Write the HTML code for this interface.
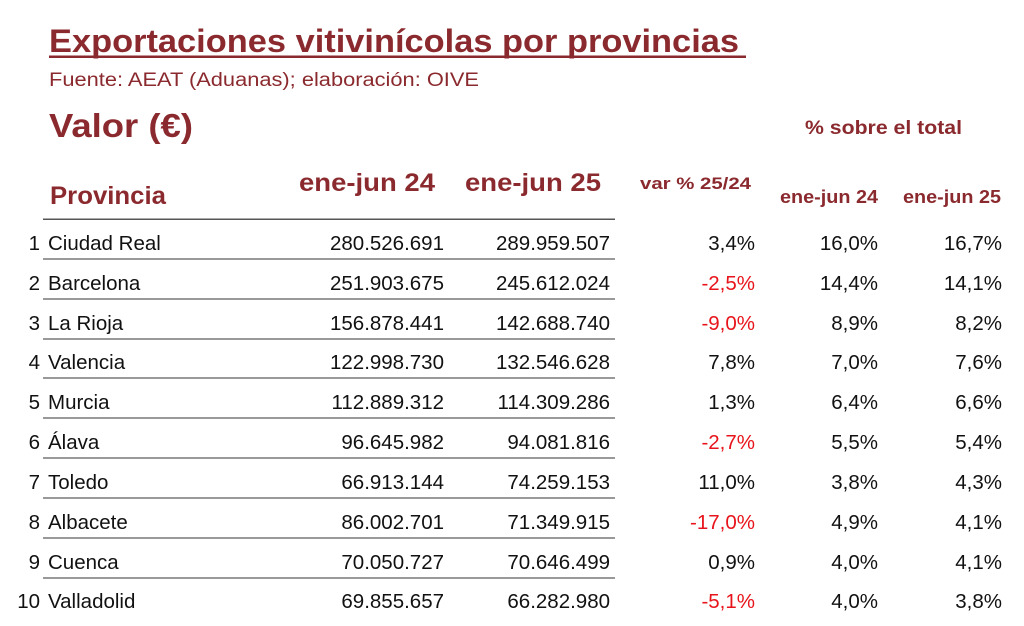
<!DOCTYPE html>
<html><head><meta charset="utf-8"><style>
html,body{margin:0;padding:0;background:#fff;}
svg{display:block;font-family:"Liberation Sans",sans-serif;}
.h{fill:#8b2a2e;font-weight:bold;}
.n{fill:#111;font-size:20.5px;}
.r{fill:#e8141c;}
</style></head><body>
<svg width="1024" height="626" viewBox="0 0 1024 626" xmlns="http://www.w3.org/2000/svg">
<rect width="1024" height="626" fill="#fff"/>
<text class="h" x="49" y="52" font-size="32" textLength="690" lengthAdjust="spacingAndGlyphs">Exportaciones vitivinícolas por provincias</text>
<rect x="49" y="55.5" width="697" height="2.5" fill="#8b2a2e"/>
<text x="49" y="86" font-size="19" fill="#8b2a2e" textLength="430" lengthAdjust="spacingAndGlyphs">Fuente: AEAT (Aduanas); elaboración: OIVE</text>
<text class="h" x="49" y="137" font-size="33" textLength="144" lengthAdjust="spacingAndGlyphs">Valor (€)</text>
<text class="h" x="805" y="134" font-size="19" textLength="157" lengthAdjust="spacingAndGlyphs">% sobre el total</text>
<text class="h" x="50" y="204" font-size="25" textLength="116" lengthAdjust="spacingAndGlyphs">Provincia</text>
<text class="h" x="299" y="191" font-size="25" textLength="136" lengthAdjust="spacingAndGlyphs">ene-jun 24</text>
<text class="h" x="465" y="191" font-size="25" textLength="136" lengthAdjust="spacingAndGlyphs">ene-jun 25</text>
<text class="h" x="640" y="189" font-size="17" textLength="111" lengthAdjust="spacingAndGlyphs">var % 25/24</text>
<text class="h" x="780" y="203" font-size="18" textLength="98" lengthAdjust="spacingAndGlyphs">ene-jun 24</text>
<text class="h" x="903" y="203" font-size="18" textLength="98" lengthAdjust="spacingAndGlyphs">ene-jun 25</text>
<rect x="43" y="218.5" width="572" height="1.5" fill="#555"/>
<g fill="#999">
<rect x="43" y="258" width="572" height="2"/><rect x="43" y="298" width="572" height="2"/>
<rect x="43" y="338" width="572" height="2"/><rect x="43" y="377" width="572" height="2"/>
<rect x="43" y="417" width="572" height="2"/><rect x="43" y="457" width="572" height="2"/>
<rect x="43" y="497" width="572" height="2"/><rect x="43" y="537" width="572" height="2"/>
<rect x="43" y="577" width="572" height="2"/>
</g>
<g class="n">
<g transform="translate(0,250)"><text x="40" text-anchor="end">1</text><text x="48">Ciudad Real</text><text x="444" text-anchor="end">280.526.691</text><text x="610" text-anchor="end">289.959.507</text><text x="755" text-anchor="end">3,4%</text><text x="878" text-anchor="end">16,0%</text><text x="1002" text-anchor="end">16,7%</text></g>
<g transform="translate(0,290)"><text x="40" text-anchor="end">2</text><text x="48">Barcelona</text><text x="444" text-anchor="end">251.903.675</text><text x="610" text-anchor="end">245.612.024</text><text class="r" x="755" text-anchor="end">-2,5%</text><text x="878" text-anchor="end">14,4%</text><text x="1002" text-anchor="end">14,1%</text></g>
<g transform="translate(0,330)"><text x="40" text-anchor="end">3</text><text x="48">La Rioja</text><text x="444" text-anchor="end">156.878.441</text><text x="610" text-anchor="end">142.688.740</text><text class="r" x="755" text-anchor="end">-9,0%</text><text x="878" text-anchor="end">8,9%</text><text x="1002" text-anchor="end">8,2%</text></g>
<g transform="translate(0,369)"><text x="40" text-anchor="end">4</text><text x="48">Valencia</text><text x="444" text-anchor="end">122.998.730</text><text x="610" text-anchor="end">132.546.628</text><text x="755" text-anchor="end">7,8%</text><text x="878" text-anchor="end">7,0%</text><text x="1002" text-anchor="end">7,6%</text></g>
<g transform="translate(0,409)"><text x="40" text-anchor="end">5</text><text x="48">Murcia</text><text x="444" text-anchor="end">112.889.312</text><text x="610" text-anchor="end">114.309.286</text><text x="755" text-anchor="end">1,3%</text><text x="878" text-anchor="end">6,4%</text><text x="1002" text-anchor="end">6,6%</text></g>
<g transform="translate(0,449)"><text x="40" text-anchor="end">6</text><text x="48">Álava</text><text x="444" text-anchor="end">96.645.982</text><text x="610" text-anchor="end">94.081.816</text><text class="r" x="755" text-anchor="end">-2,7%</text><text x="878" text-anchor="end">5,5%</text><text x="1002" text-anchor="end">5,4%</text></g>
<g transform="translate(0,489)"><text x="40" text-anchor="end">7</text><text x="48">Toledo</text><text x="444" text-anchor="end">66.913.144</text><text x="610" text-anchor="end">74.259.153</text><text x="755" text-anchor="end">11,0%</text><text x="878" text-anchor="end">3,8%</text><text x="1002" text-anchor="end">4,3%</text></g>
<g transform="translate(0,529)"><text x="40" text-anchor="end">8</text><text x="48">Albacete</text><text x="444" text-anchor="end">86.002.701</text><text x="610" text-anchor="end">71.349.915</text><text class="r" x="755" text-anchor="end">-17,0%</text><text x="878" text-anchor="end">4,9%</text><text x="1002" text-anchor="end">4,1%</text></g>
<g transform="translate(0,569)"><text x="40" text-anchor="end">9</text><text x="48">Cuenca</text><text x="444" text-anchor="end">70.050.727</text><text x="610" text-anchor="end">70.646.499</text><text x="755" text-anchor="end">0,9%</text><text x="878" text-anchor="end">4,0%</text><text x="1002" text-anchor="end">4,1%</text></g>
<g transform="translate(0,608)"><text x="40" text-anchor="end">10</text><text x="48">Valladolid</text><text x="444" text-anchor="end">69.855.657</text><text x="610" text-anchor="end">66.282.980</text><text class="r" x="755" text-anchor="end">-5,1%</text><text x="878" text-anchor="end">4,0%</text><text x="1002" text-anchor="end">3,8%</text></g>
</g>
</svg>
</body></html>
